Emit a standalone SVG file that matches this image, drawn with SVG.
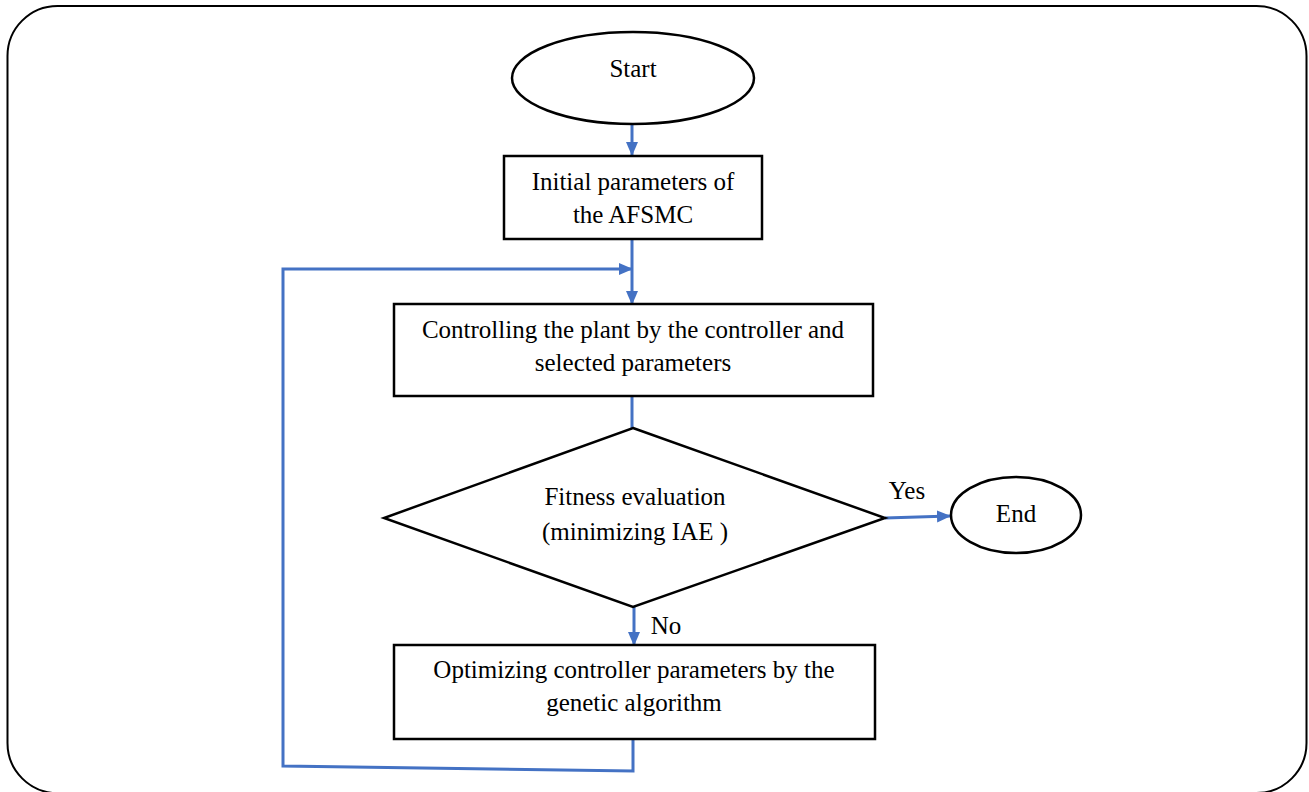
<svg xmlns="http://www.w3.org/2000/svg" width="1309" height="792" viewBox="0 0 1309 792">
<style>
.shape{fill:#fff;stroke:#000;stroke-width:2.5}
.t{font-family:"Liberation Serif","Times New Roman",serif;font-size:25px;fill:#000;text-anchor:middle}
.c{fill:none;stroke:#4472C4;stroke-width:3}
</style>
<defs>
<marker id="ah2" markerWidth="14" markerHeight="14" refX="13" refY="7" orient="auto" markerUnits="userSpaceOnUse" viewBox="0 0 14 14">
<path d="M0,1 L14,7 L0,13 z" fill="#4472C4"/>
</marker>
</defs>
<rect x="7.5" y="6" width="1299" height="787" rx="50" ry="50" fill="#fff" stroke="#000" stroke-width="2"/>
<g id="connectors">
<path class="c" d="M632,124 L632,155" marker-end="url(#ah2)"/>
<path class="c" d="M632,240 L632,304" marker-end="url(#ah2)"/>
<path class="c" d="M633,740 L633,771 L283,766 L283,269 L632,269" marker-end="url(#ah2)"/>
<path class="c" d="M632,396 L632,428"/>
<path class="c" d="M885,518 L950,516" marker-end="url(#ah2)"/>
<path class="c" d="M634,607 L634,645" marker-end="url(#ah2)"/>
</g>
<g id="start">
<ellipse class="shape" cx="633" cy="78" rx="121" ry="46"/>
<text class="t" x="633" y="77">Start</text>
</g>
<g id="init">
<rect class="shape" x="504" y="156" width="258" height="83"/>
<text class="t" x="633" y="190">Initial parameters of</text>
<text class="t" x="633" y="223">the AFSMC</text>
</g>
<g id="control">
<rect class="shape" x="394" y="304" width="479" height="92"/>
<text class="t" x="633" y="338">Controlling the plant by the controller and</text>
<text class="t" x="633" y="371">selected parameters</text>
</g>
<g id="fitness">
<polygon class="shape" points="633,428 885,518 633,607 384,518"/>
<text class="t" x="635" y="505">Fitness evaluation</text>
<text class="t" x="635" y="540">(minimizing IAE )</text>
</g>
<g id="end">
<ellipse class="shape" cx="1016" cy="515" rx="65" ry="38"/>
<text class="t" x="1016" y="522">End</text>
</g>
<g id="optimize">
<rect class="shape" x="394" y="645" width="481" height="94"/>
<text class="t" x="634" y="678">Optimizing controller parameters by the</text>
<text class="t" x="634" y="711">genetic algorithm</text>
</g>
<g id="labels">
<text class="t" x="907" y="499">Yes</text>
<text class="t" x="666" y="634">No</text>
</g>
</svg>
